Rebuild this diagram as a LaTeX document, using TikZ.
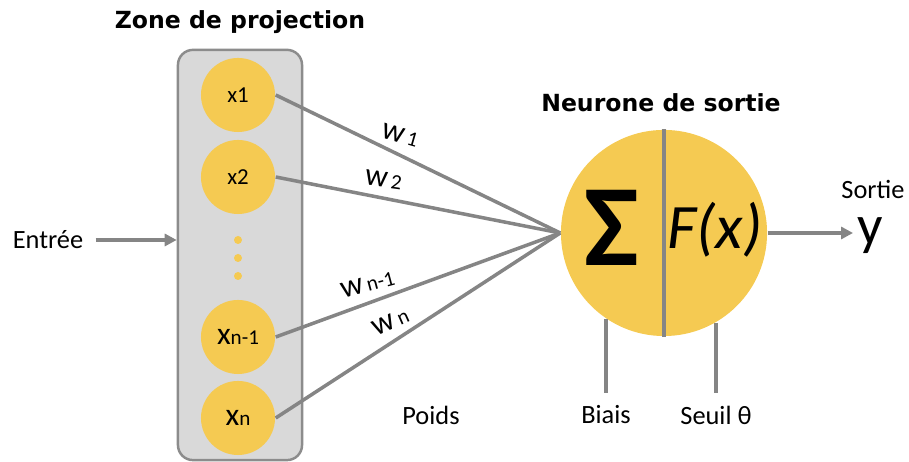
\documentclass[tikz,border=0pt]{standalone}
\usepackage{fontspec}
\setmainfont{Carlito}
\newfontfamily\headfont{DejaVu Sans}
\usetikzlibrary{arrows.meta}

\definecolor{neuronyellow}{HTML}{F5CA52}
\definecolor{linegray}{HTML}{858585}
\definecolor{zonegray}{HTML}{D9D9D9}
\definecolor{zoneborder}{HTML}{8C8C8C}

\newcommand{\wlab}[1]{{\fontsize{9}{10}\selectfont w}\kern1pt\fontsize{6}{7}\selectfont #1}
\newcommand{\xlab}[1]{{\fontsize{9}{10}\selectfont x}\fontsize{6}{7}\selectfont #1}

\tikzset{
  input/.style={circle, fill=neuronyellow, minimum size=0.74cm, inner sep=0pt,
    font=\fontsize{6.5}{7}\selectfont},
  dot/.style={circle, fill=neuronyellow, minimum size=0.08cm, inner sep=0pt},
  link/.style={draw=linegray, line width=1pt},
  arrowlink/.style={link, -{Triangle[length=0.12cm, width=0.12cm]}},
  heading/.style={font=\headfont\bfseries\fontsize{6.7}{7}\selectfont},
  label/.style={font=\fontsize{7.5}{9}\selectfont},
  weight/.style={above, inner sep=2.5pt}
}

\begin{document}
\begin{tikzpicture}[x=0.01cm, y=-0.01cm]
\useasboundingbox (0,0) rectangle (909,462);

% zone de projection
\node[heading] (zonetitle) at (240,22) {Zone de projection};
\node[draw=zoneborder, fill=zonegray, line width=0.7pt, rounded corners=0.15cm,
  minimum width=1.24cm, minimum height=4.1cm] (zone) at (240,255) {};

\node[input] (x1) at (238,95) {x1};
\node[input] (x2) at (238,177) {x2};
\node[dot] (d1) at (238,240) {};
\node[dot] (d2) at (238,258) {};
\node[dot] (d3) at (238,276) {};
\node[input] (xn1) at (238,337) {\xlab{n-1}};
\node[input] (xn) at (238,418) {\xlab{n}};

% entree
\node[label] (entree) at (48,240) {Entrée};
\coordinate (zonein) at (zone.west |- entree);
\draw[arrowlink] (entree.east) -- (zonein);

% neurone
\node[heading] (neurontitle) at (661,103) {Neurone de sortie};
\node[circle, fill=neuronyellow, minimum size=2.06cm, inner sep=0pt] (neuron) at (664,233) {};
\draw[link] (neuron.north) -- (neuron.south);
\node[font=\bfseries\fontsize{33}{36}\selectfont] (sum) at (612,228) {Σ};
\node[font=\itshape\fontsize{18}{20}\selectfont] (func) at (715,230) {F(x)};

% poids
\draw[link] (x1.east) -- node[weight, pos=0.42, rotate=-16] {\wlab{1}} (neuron.west);
\draw[link] (x2.east) -- node[weight, pos=0.37, rotate=-8] {\wlab{2}} (neuron.west);
\draw[link] (xn1.east) -- node[weight, pos=0.34, rotate=15] {\wlab{n-1}} (neuron.west);
\draw[link] (xn.east) -- node[weight, pos=0.43, rotate=24] {\wlab{n}} (neuron.west);
\node[label] (poids) at (431,415) {Poids};

% biais et seuil
\node[label] (biais) at (606,415) {Biais};
\node[label] (seuil) at (716,415) {Seuil θ};
\draw[link] (neuron.-124) -- (neuron.-124 |- biais.north);
\draw[link] (neuron.-60) -- (neuron.-60 |- seuil.north);

% sortie
\node[font=\fontsize{16}{18}\selectfont, anchor=base, inner sep=1pt] (y) at (870,245) {y};
\node[label] (sortie) at (873,189) {Sortie};
\draw[arrowlink] (neuron.east) -- (y.west |- neuron.east);

\end{tikzpicture}
\end{document}
